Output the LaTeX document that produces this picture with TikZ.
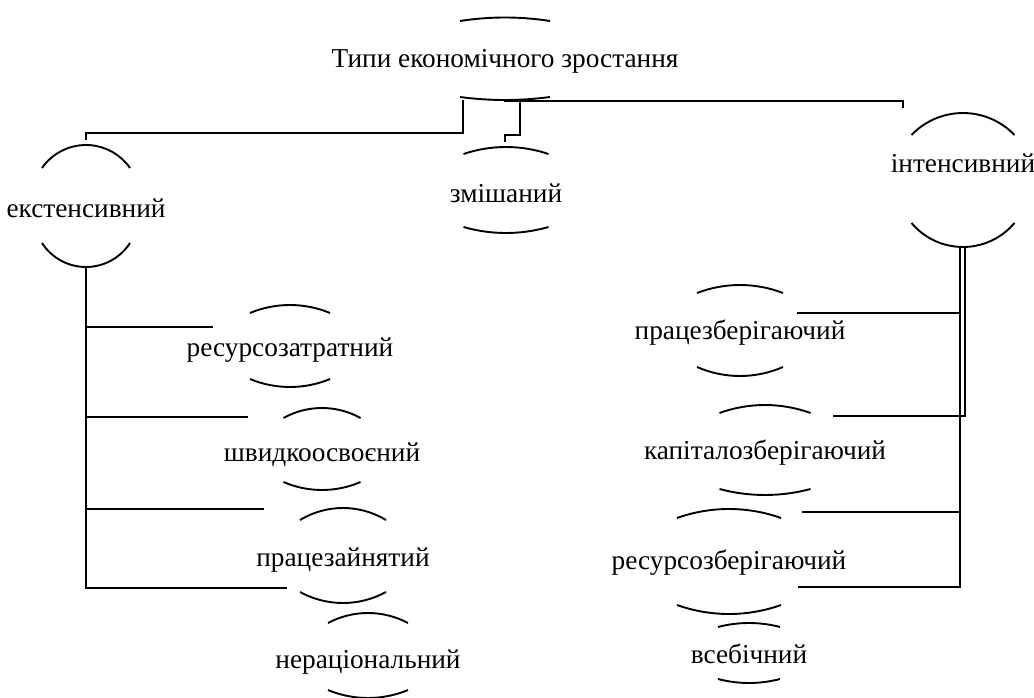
\documentclass[tikz,border=0pt]{standalone}
\usepackage{fontspec}
\setmainfont{Liberation Serif}
\newfontfamily\termfont{Liberation Serif}
\usetikzlibrary{calc}
\tikzstyle{connection}=[line width=2pt, draw=black]
\tikzstyle{lid}=[line width=1.9pt, draw=black]
\tikzstyle{term}=[inner sep=0pt, anchor=base, font=\termfont\fontsize{27.3}{32}\selectfont]
\tikzset{Shell/.pic={\tikzset{/shell/.cd,#1}
        \pgfmathsetmacro{\radT}{(\shw*\shw+\shts*\shts)/(2*\shts)}
        \pgfmathsetmacro{\angT}{asin(\shw/\radT)}
        \pgfmathsetmacro{\radB}{(\shw*\shw+\shbs*\shbs)/(2*\shbs)}
        \pgfmathsetmacro{\angB}{asin(\shw/\radB)}
        % upper lid
        \draw[lid] (-\shw,\shtop) arc[start angle=90+\angT, end angle=90-\angT, radius=\radT];
        % lower lid
        \draw[lid] (-\shw,\shbot) arc[start angle=270-\angB, end angle=270+\angB, radius=\radB];
    },
    /shell/.search also={/tikz},
    /shell/.cd,
    w/.store in=\shw, top/.store in=\shtop, ts/.store in=\shts,
    bot/.store in=\shbot, bs/.store in=\shbs,
    w=40, top=40, ts=8, bot=-25, bs=8,
}
\begin{document}
\begin{tikzpicture}[x=1pt, y=1pt]
    \useasboundingbox (0,0) rectangle (1034,-698);

    % ==== ROOT ====
    \node[term] (ttl) at (505,-68) {Типи економічного зростання};
    \pic at (ttl.base) {Shell={w=45, top=47, ts=3.5, bot=-29, bs=3}};

    % === FIRST LEVEL ===
    \node[term] (ext) at (86,-218) {екстенсивний};
    \pic at (ext.base) {Shell={w=44, top=50, ts=23, bot=-25, bs=24}};

    \node[term] (mix) at (506,-202) {змішаний};
    \pic at (mix.base) {Shell={w=42.5, top=48, ts=7, bot=-25, bs=6}};

    \node[term] (int) at (963,-173) {інтенсивний};
    \pic at (int.base) {Shell={w=51.5, top=38, ts=22, bot=-50, bs=24}};

    % === EXTENSIVE BRANCH ===
    \node[term] (rz) at (290,-356) {ресурсозатратний};
    \pic at (rz.base) {Shell={w=40, top=43, ts=8, bot=-23, bs=8}};

    \node[term] (shv) at (322,-461) {швидкоосвоєний};
    \pic at (shv.base) {Shell={w=38.5, top=43, ts=10, bot=-21, bs=8}};

    \node[term] (prz) at (343,-566) {працезайнятий};
    \pic at (prz.base) {Shell={w=43, top=46, ts=12, bot=-26, bs=11}};

    \node[term] (ner) at (368,-668) {нераціональний};
    \pic at (ner.base) {Shell={w=40, top=45, ts=10, bot=-22, bs=8}};

    % === INTENSIVE BRANCH ===
    \node[term] (pzb) at (740,-339) {працезберігаючий};
    \pic at (pzb.base) {Shell={w=43, top=46, ts=8, bot=-28, bs=9}};

    \node[term] (kap) at (765,-459) {капіталозберігаючий};
    \pic at (kap.base) {Shell={w=45.5, top=46, ts=8, bot=-30, bs=6}};

    \node[term] (rzb) at (729,-569) {ресурсозберігаючий};
    \pic at (rzb.base) {Shell={w=52, top=51, ts=9, bot=-36, bs=9}};

    \node[term] (vse) at (749,-663) {всебічний};
    \pic at (vse.base) {Shell={w=31, top=36, ts=4, bot=-16, bs=4}};

    % ==== CONNECTION POINTS ====
    \coordinate (ttl-a) at (463,-100);
    \coordinate (ttl-b) at (504,-101);
    \coordinate (ttl-c) at (520,-102);
    \coordinate (ext-in) at (86,-140);
    \coordinate (mix-in) at (505,-142);
    \coordinate (int-in) at (903,-108);
    \coordinate (ext-out) at (86,-267);
    \coordinate (rz-in) at (213,-327);
    \coordinate (shv-in) at (248,-417);
    \coordinate (prz-in) at (264,-509);
    \coordinate (ner-in) at (287,-588);
    \coordinate (int-out) at (960,-247);
    \coordinate (int-out2) at (965,-247);
    \coordinate (pzb-in) at (797,-313);
    \coordinate (kap-in) at (833,-416);
    \coordinate (rzb-in) at (802,-512);
    \coordinate (vse-in) at (798,-587);

    % ==== CONNECTIONS ====
    % root -> first level
    \draw[connection] (ttl-a) -- ++(0,-33) -| (ext-in);
    \draw[connection] (ttl-c) -- ++(0,-33) -| (mix-in);
    \draw[connection] (ttl-b) -| (int-in);

    % extensive trunk
    \draw[connection] (ext-out) |- (ner-in);
    \draw[connection] (ext-out |- rz-in) -- (rz-in);
    \draw[connection] (ext-out |- shv-in) -- (shv-in);
    \draw[connection] (ext-out |- prz-in) -- (prz-in);

    % intensive trunk (double line)
    \draw[connection] (int-out) |- (vse-in);
    \draw[connection] (int-out2) |- (kap-in);
    \draw[connection] (int-out |- pzb-in) -- (pzb-in);
    \draw[connection] (int-out |- rzb-in) -- (rzb-in);

\end{tikzpicture}
\end{document}
